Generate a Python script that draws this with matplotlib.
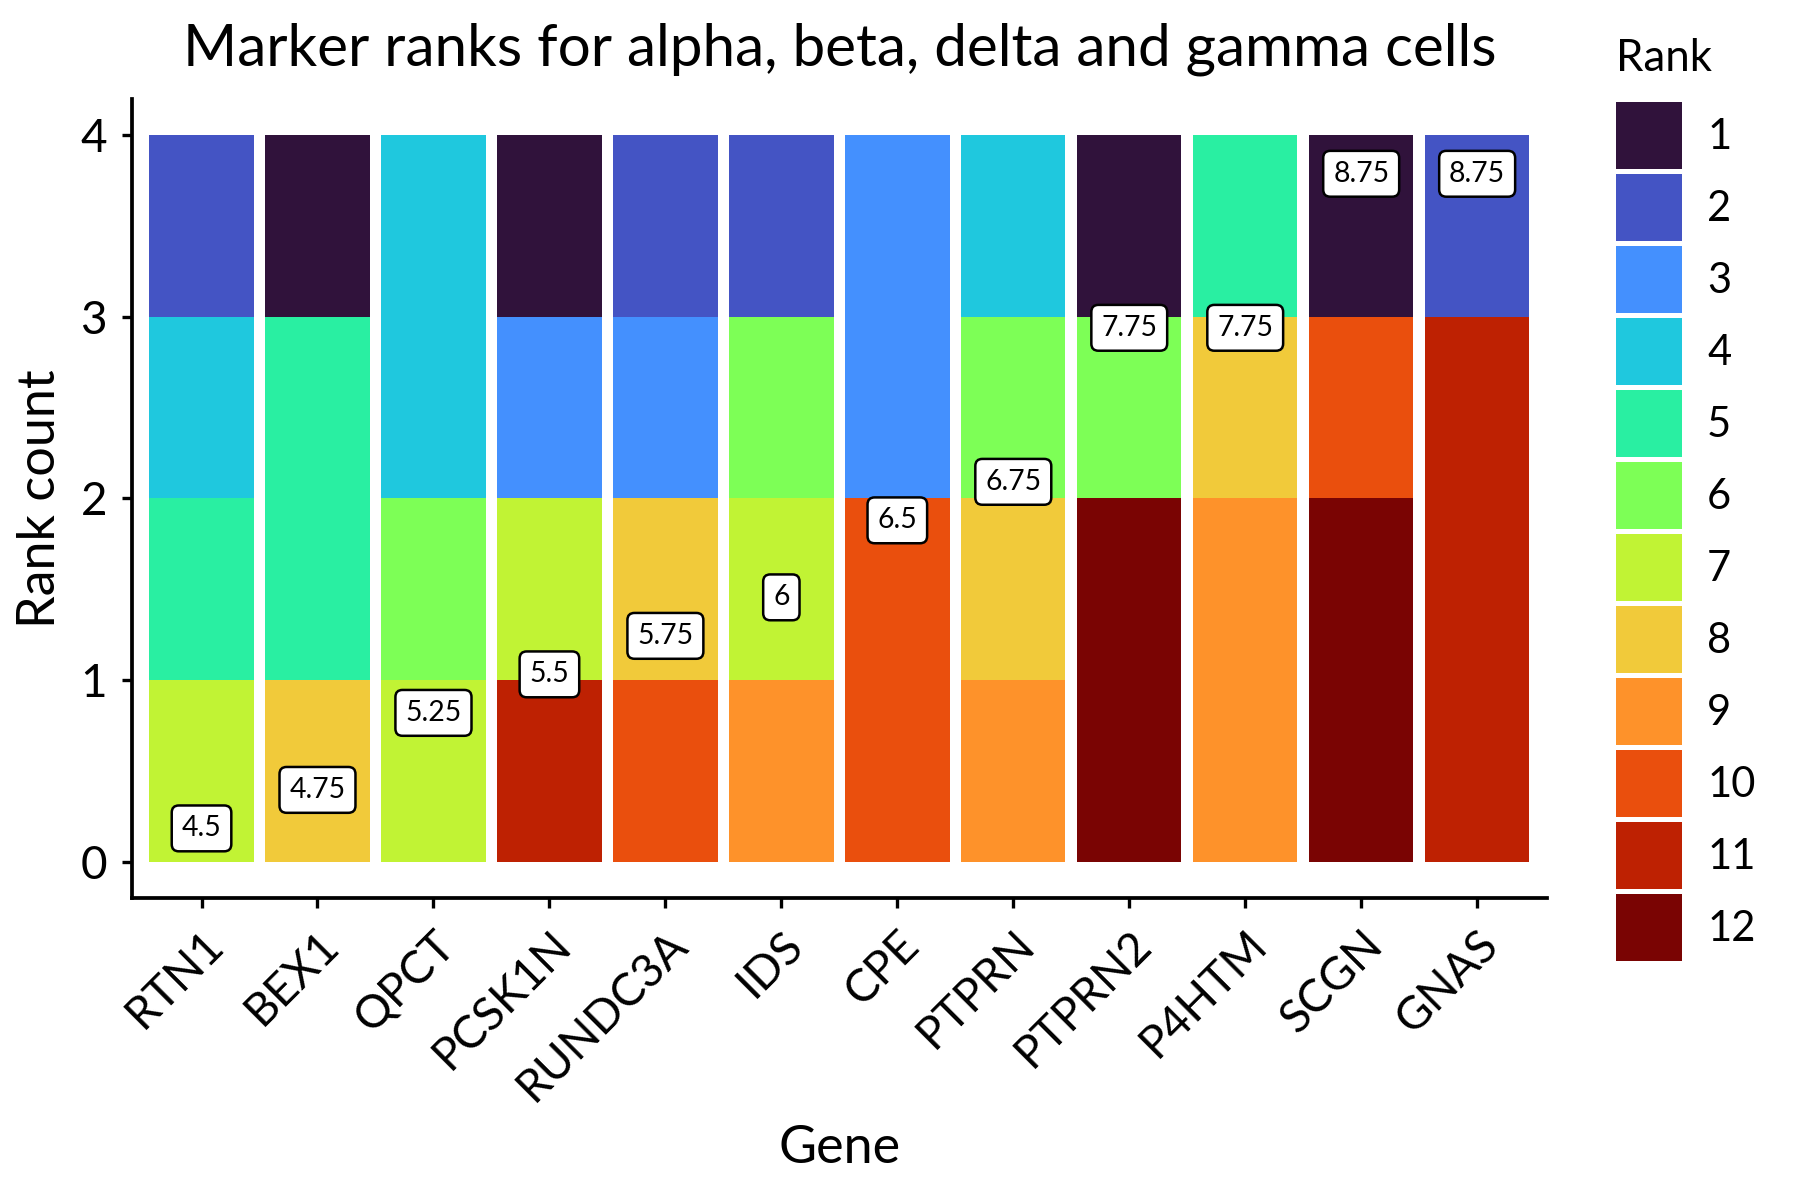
import numpy as np
import matplotlib
matplotlib.use("Agg")
import matplotlib.pyplot as plt
from matplotlib.patches import Patch

plt.rcParams['font.family'] = ['Lato', 'DejaVu Sans']

# ranks given to each gene by the four cell types
genes = ['RTN1', 'BEX1', 'QPCT', 'PCSK1N', 'RUNDC3A', 'IDS',
         'CPE', 'PTPRN', 'PTPRN2', 'P4HTM', 'SCGN', 'GNAS']
ranks = [
    [7, 5, 4, 2],
    [8, 5, 5, 1],
    [7, 6, 4, 4],
    [11, 7, 3, 1],
    [10, 8, 3, 2],
    [9, 7, 6, 2],
    [10, 10, 3, 3],
    [9, 8, 6, 4],
    [12, 12, 6, 1],
    [9, 9, 8, 5],
    [12, 12, 10, 1],
    [11, 11, 11, 2],
]
rank_levels = list(range(1, 13))
turbo12 = ['#30123B', '#4454C4', '#4490FE', '#1FC8DE', '#29EFA2', '#7DFF56',
           '#C1F334', '#F1CA3A', '#FE922A', '#EA4F0D', '#BE2102', '#7A0403']

fig = plt.figure(figsize=(6, 4), dpi=300)
ax = fig.add_axes([0.0733, 0.2517, 0.786, 0.666])

x = np.arange(1, len(genes) + 1)
for i, r in enumerate(ranks):
    bottom = 0
    for rk in sorted(r, reverse=True):
        ax.bar(x[i], 1, bottom=bottom, width=0.9, color=turbo12[rk - 1],
               linewidth=0)
        bottom += 1

# mean rank labels, placed along the bars by their mean
means = np.array([np.mean(r) for r in ranks])
label_y = np.interp(means, [means.min(), means.max()], [0.183, 3.787])
for xi, m, yi in zip(x, means, label_y):
    ax.text(xi, yi, f'{m:g}', ha='center', va='center', fontsize=6.8,
            bbox=dict(boxstyle='round,pad=0.35,rounding_size=0.25',
                      facecolor='white', edgecolor='black', linewidth=0.6))

ax.set_xlim(0.4, len(genes) + 0.6)
ax.set_ylim(-0.2, 4.2)
ax.set_yticks([0, 1, 2, 3, 4])
ax.set_xticks(x)
ax.set_xticklabels(genes, rotation=45, ha='right', va='top',
                   rotation_mode='anchor', fontsize=11)
ax.tick_params(axis='y', labelsize=11)
ax.tick_params(length=2.5, width=0.8, color='black', labelcolor='black')
for s in ['top', 'right']:
    ax.spines[s].set_visible(False)
for s in ['left', 'bottom']:
    ax.spines[s].set_linewidth(0.9)

ax.set_xlabel('Gene', fontsize=12.5)
ax.set_ylabel('Rank count', fontsize=12.5)
ax.set_title('Marker ranks for alpha, beta, delta and gamma cells',
             fontsize=14, pad=8)

handles = [Patch(facecolor=c, edgecolor='none') for c in turbo12]
leg = fig.legend(handles, [str(v) for v in rank_levels],
                 loc='upper left', bbox_to_anchor=(0.8978, 1 - 102 / 1200),
                 frameon=False, fontsize=10, borderpad=0,
                 handlelength=1.584, handleheight=2.097, labelspacing=0.12,
                 handletextpad=0.6, borderaxespad=0)
fig.text(0.8978, 1 - 71 / 1200, 'Rank', fontsize=10.5, ha='left',
         va='baseline')

fig.savefig('out.png', dpi=300)
